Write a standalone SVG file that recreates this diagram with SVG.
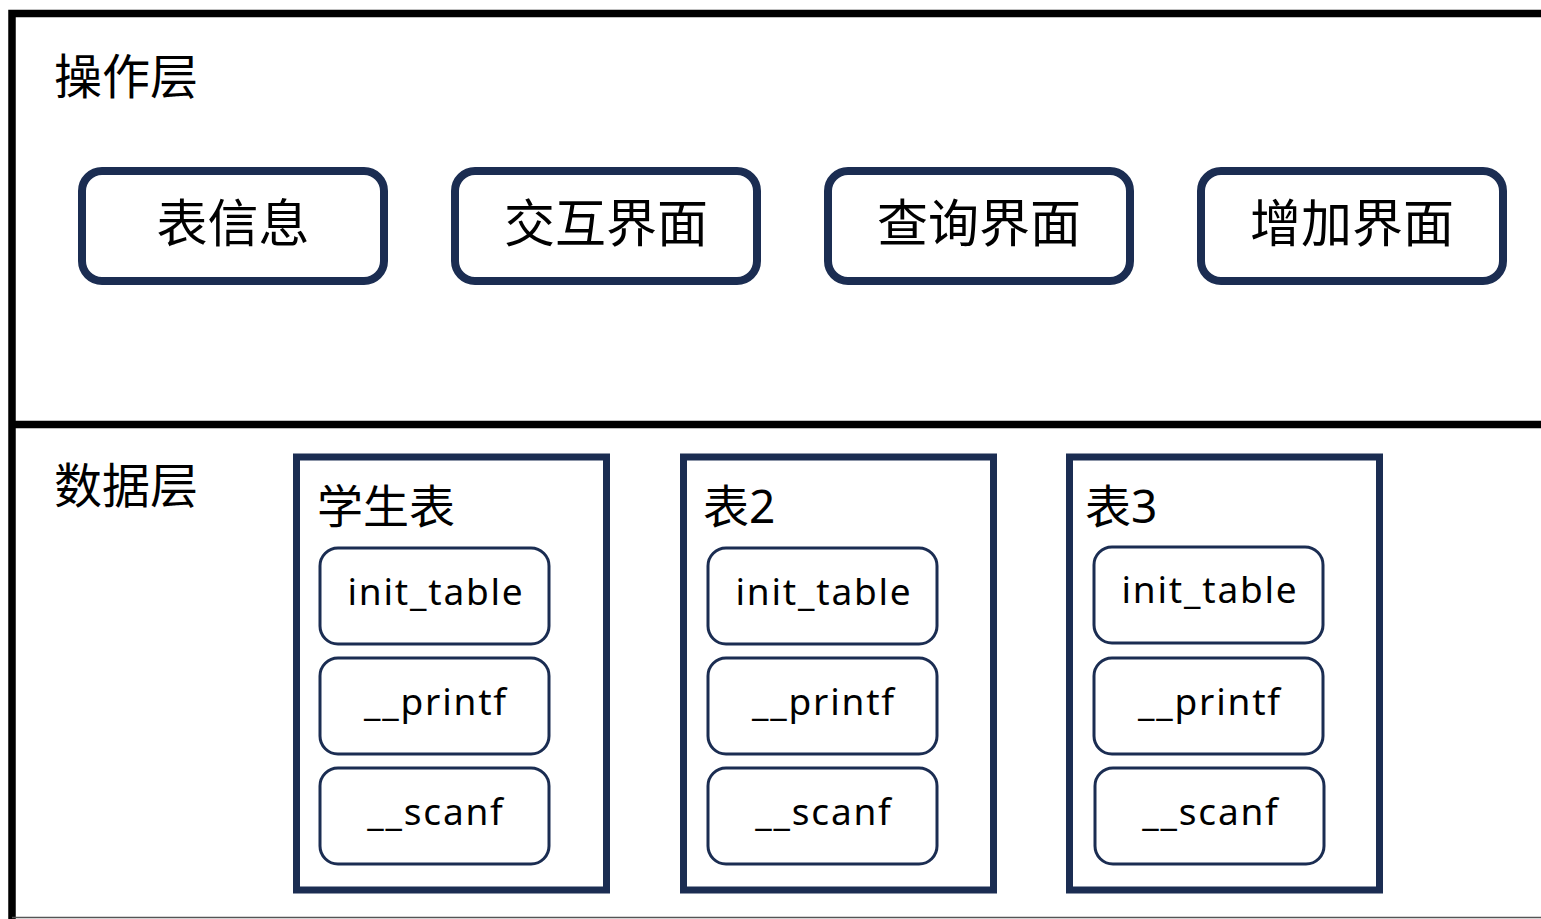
<svg xmlns="http://www.w3.org/2000/svg" width="1541" height="919" viewBox="0 0 1541 919">
<style>
.frame{fill:none;stroke:#000;stroke-width:7.5}
.op{fill:#fff;stroke:#1b2d52;stroke-width:8}
.tbl{fill:#fff;stroke:#1b2d52;stroke-width:7}
.fn{fill:#fff;stroke:#1b2d52;stroke-width:3}
.layer{font-family:"Noto Sans CJK SC","Noto Sans",sans-serif;font-size:48px;fill:#000;dominant-baseline:central}
.optxt{font-family:"Noto Sans CJK SC","Noto Sans",sans-serif;font-size:51px;fill:#000;text-anchor:middle;dominant-baseline:central}
.ttl{font-family:"Noto Sans","Noto Sans CJK SC",sans-serif;font-size:46px;fill:#000;dominant-baseline:central}
.fntxt{font-family:"Noto Sans","Noto Sans CJK SC",sans-serif;font-size:37px;fill:#000;text-anchor:middle;letter-spacing:1.8px}
</style>
<rect width="1541" height="919" fill="#fff"/>
<g id="frame">
<path class="frame" d="M1548 13.5H12V919"/>
<line class="frame" x1="12" y1="424.5" x2="1548" y2="424.5"/>
<line x1="12" y1="917.5" x2="1541" y2="917.5" stroke="#555" stroke-width="1.5"/>
<text class="layer" x="54" y="73">操作层</text>
<text class="layer" x="54" y="482">数据层</text>
</g>
<g id="op-biaoxinxi"><rect class="op" x="82" y="171" width="302" height="110" rx="20"/><text class="optxt" x="233" y="220">表信息</text></g>
<g id="op-jiaohu"><rect class="op" x="455" y="171" width="302" height="110" rx="20"/><text class="optxt" x="606" y="220">交互界面</text></g>
<g id="op-chaxun"><rect class="op" x="828" y="171" width="302" height="110" rx="20"/><text class="optxt" x="979" y="220">查询界面</text></g>
<g id="op-zengjia"><rect class="op" x="1201" y="171" width="302" height="110" rx="20"/><text class="optxt" x="1352" y="220">增加界面</text></g>
<g id="tbl-student">
<rect class="tbl" x="296.5" y="457" width="310" height="433"/>
<text class="ttl" x="317" y="505">学生表</text>
<rect class="fn" x="320" y="548" width="229" height="96" rx="18"/>
<text class="fntxt" x="436" y="605">init_table</text>
<rect class="fn" x="320" y="658" width="229" height="96" rx="18"/>
<text class="fntxt" x="436" y="715">__printf</text>
<rect class="fn" x="320" y="768" width="229" height="96" rx="18"/>
<text class="fntxt" x="436" y="825">__scanf</text>
</g>
<g id="tbl-2">
<rect class="tbl" x="683.5" y="457" width="310" height="433"/>
<text class="ttl" x="703" y="505">表2</text>
<rect class="fn" x="708" y="548" width="229" height="96" rx="18"/>
<text class="fntxt" x="824" y="605">init_table</text>
<rect class="fn" x="708" y="658" width="229" height="96" rx="18"/>
<text class="fntxt" x="824" y="715">__printf</text>
<rect class="fn" x="708" y="768" width="229" height="96" rx="18"/>
<text class="fntxt" x="824" y="825">__scanf</text>
</g>
<g id="tbl-3">
<rect class="tbl" x="1069.5" y="457" width="310" height="433"/>
<text class="ttl" x="1085" y="505">表3</text>
<rect class="fn" x="1094" y="547" width="229" height="96" rx="18"/>
<text class="fntxt" x="1210" y="603">init_table</text>
<rect class="fn" x="1094" y="658" width="229" height="96" rx="18"/>
<text class="fntxt" x="1210" y="715">__printf</text>
<rect class="fn" x="1095" y="768" width="229" height="96" rx="18"/>
<text class="fntxt" x="1211" y="825">__scanf</text>
</g>
<g id="connectors"></g>
</svg>
